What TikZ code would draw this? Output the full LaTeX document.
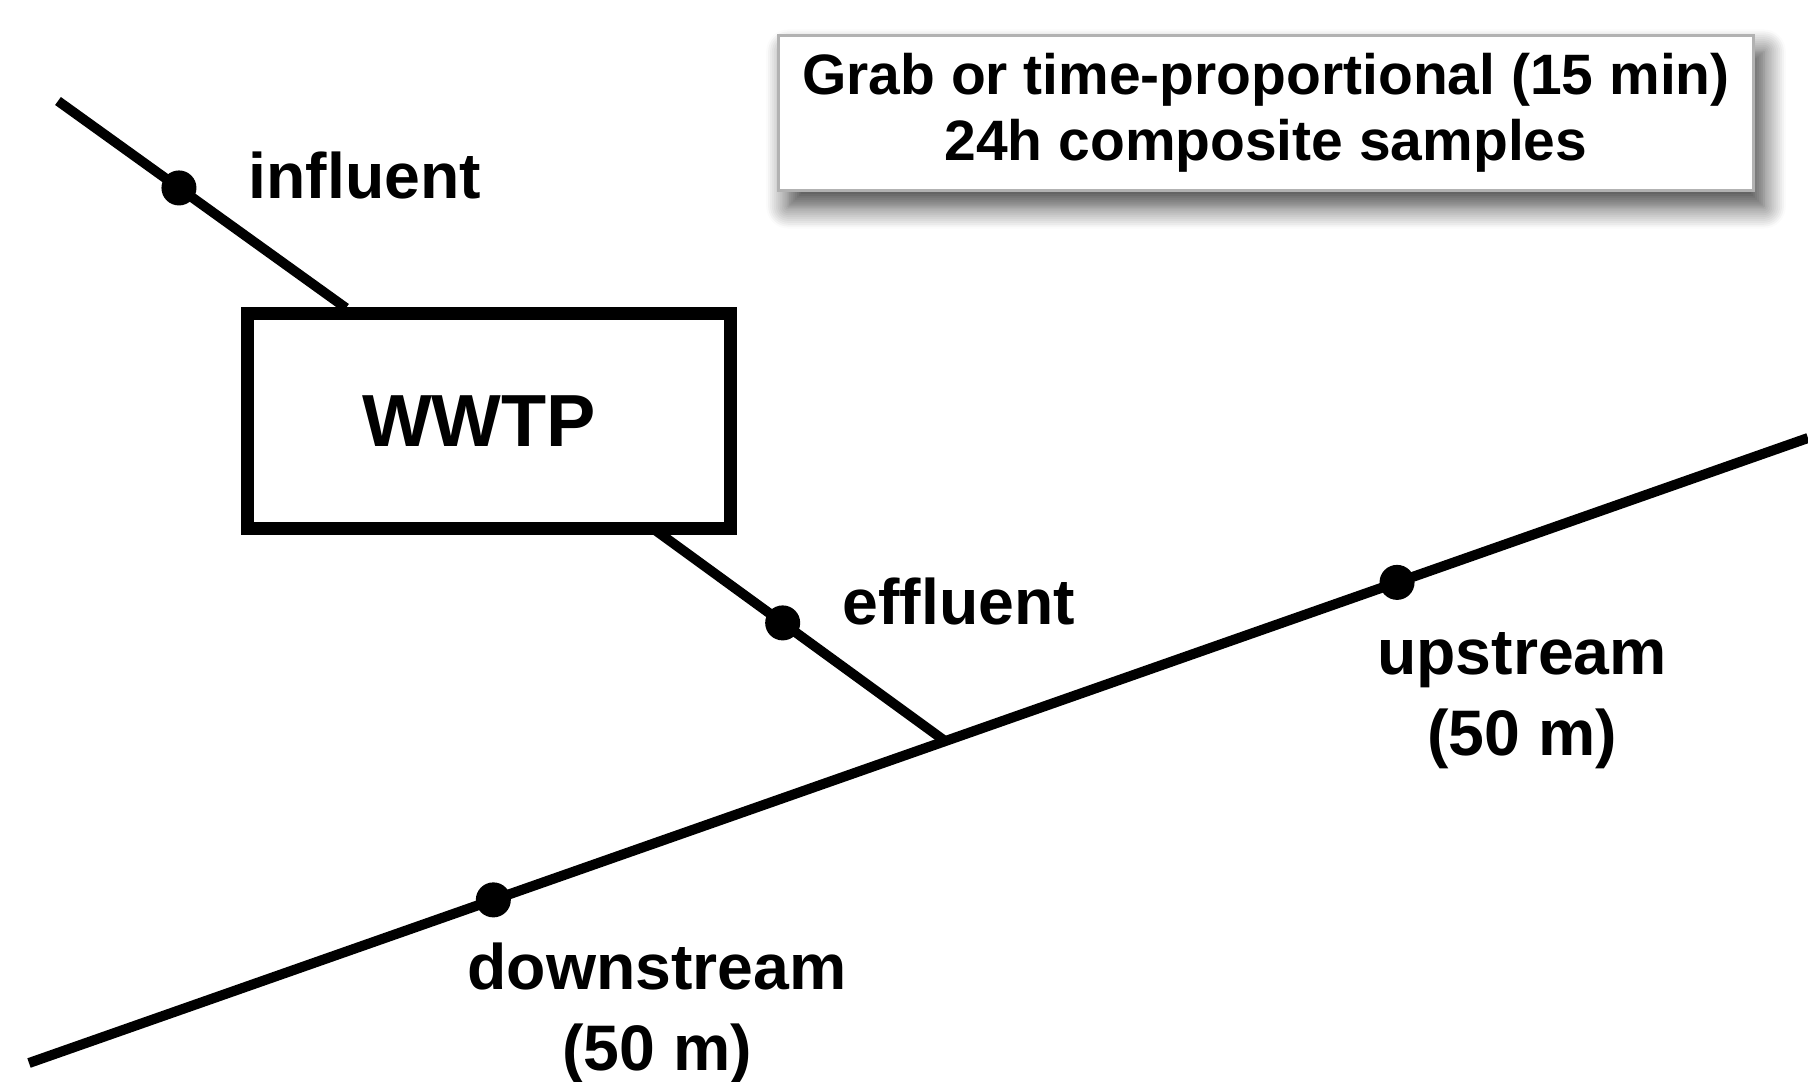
\documentclass[tikz,border=0pt]{standalone}
\usepackage{fontspec}
\setmainfont{Liberation Sans}
\usetikzlibrary{positioning,shadows.blur}

\begin{document}
\begin{tikzpicture}[x=0.01cm, y=-0.01cm]
  % Styles for the sampling scheme
  \tikzset{
    plant/.style={rectangle, draw, line width=3.7pt, minimum width=4.82cm, minimum height=2.14cm, font=\fontsize{21}{25}\selectfont\bfseries},
    sample/.style={circle, fill=black, inner sep=0pt, minimum size=0.35cm},
    pipe/.style={line width=2.8pt},
    river/.style={line width=2.85pt},
    tag/.style={font=\fontsize{18.3}{23}\selectfont\bfseries, align=center, inner sep=0pt},
    legendbox/.style={rectangle, draw=gray!60, fill=white, line width=0.8pt, minimum width=9.75cm, minimum height=1.55cm, align=center, font=\fontsize{16.2}{18.7}\selectfont\bfseries, blur shadow={shadow xshift=0.1cm, shadow yshift=-0.16cm, shadow blur radius=0.22cm, shadow blur steps=12, shadow opacity=75}}
  }
  \useasboundingbox (0,0) rectangle (1808,1081);

  % Plant and legend
  \node[plant] (wwtp) at (489,421) {WWTP\hspace*{0.2cm}};
  \node[legendbox] (legend) at (1266,113) {Grab or time-proportional (15 min)\\24h composite samples};

  % River with sampling points
  \coordinate (riverA) at (29,1063);
  \coordinate (riverB) at (1808,438);
  \draw[river] (riverA) -- (riverB) coordinate[pos=.261] (down) coordinate[pos=.769] (up) coordinate[pos=.515] (junc);
  \node[sample] (dotDown) at (down) {};
  \node[sample] (dotUp) at (up) {};

  % Influent and effluent pipes
  \coordinate (inStart) at (58,101);
  \coordinate (inEnd) at (346,308);
  \draw[pipe] (inStart) -- (inEnd) node[sample, pos=.42] (dotIn) {};
  \coordinate (effStart) at (655,530);
  \draw[pipe] (effStart) -- (junc) node[sample, pos=.44] (dotEff) {};

  % Labels
  \node[tag, anchor=base west] (lblIn) at (248,198) {influent};
  \node[tag, anchor=base west] (lblEff) at (842,624) {effluent};
  \node[tag] (lblUp) at (1522,701) {upstream\\(50 m)};
  \node[tag] (lblDown) at (657,1013) {downstream\\(50 m)};
\end{tikzpicture}
\end{document}
